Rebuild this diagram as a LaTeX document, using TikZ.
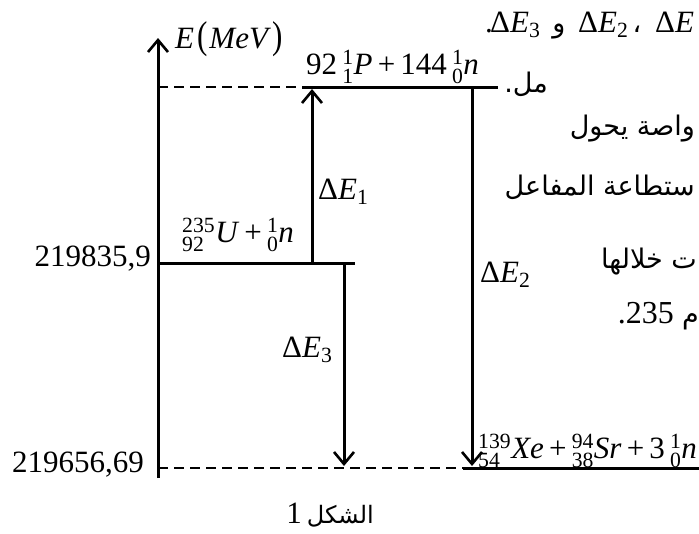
\documentclass[tikz,border=0pt]{standalone}
\usepackage{amsmath}
\usepackage{graphicx}
\usepackage{fontspec}
\setmainfont{Liberation Serif}
\newfontfamily\tnr{Liberation Serif}
\newfontfamily\arabicfont[Script=Arabic]{DejaVu Sans}
\TeXXeTstate=1
\usetikzlibrary{arrows.meta}
\newcommand{\iso}[3]{${}^{\text{\tnr #1}}_{\text{\tnr #2}}$\textit{#3}}
\newcommand{\dEl}[1]{Δ\textit{E}$_{\text{\tnr #1}}$}
\begin{document}
\begin{tikzpicture}[x=1pt,y=-1pt,
  lvl/.style={line width=3pt},
  dlvl/.style={line width=2.2pt,dash pattern=on 10pt off 6pt},
  arr/.style={line width=3pt,-{Straight Barb[length=12pt,width=20pt,line width=2.6pt]}},
  lab/.style={inner sep=0pt,font=\tnr\fontsize{31}{37}\selectfont},
  num/.style={inner sep=0pt,font=\tnr\fontsize{31}{37}\selectfont},
  ar/.style={inner sep=0pt,font=\arabicfont\fontsize{27}{32}\selectfont}]
\useasboundingbox (0,0) rectangle (699,533);
\clip (0,0) rectangle (699,533);
% coordinates
\coordinate (axB) at (158,478); \coordinate (axT) at (158,38);
\coordinate (tL) at (158,87); \coordinate (tM) at (302,87); \coordinate (tR) at (498,87);
\coordinate (uL) at (158,263); \coordinate (uR) at (355,263);
\coordinate (bL) at (158,468); \coordinate (bM) at (463,468); \coordinate (bR) at (705,468);
\coordinate (a1s) at (312,263); \coordinate (a1e) at (312,89);
\coordinate (a2s) at (472,87); \coordinate (a2e) at (472,466);
\coordinate (a3s) at (344,263); \coordinate (a3e) at (344,466);
% axis and levels
\draw[arr] (axB) -- (axT);
\draw[dlvl] (tL) -- (tM);
\draw[lvl] (tM) -- (tR);
\draw[lvl] (uL) -- (uR);
\draw[dlvl] (bL) -- (bM);
\draw[lvl] (bM) -- (bR);
% transitions
\draw[arr] (a1s) -- (a1e);
\draw[arr] (a2s) -- (a2e);
\draw[arr] (a3s) -- (a3e);
% labels
\node[lab,anchor=base west] (emev) at (175,48) {\textit{E}\kern3pt\scalebox{1}[1.25]{(}\kern2pt\textit{MeV}\kern2pt\scalebox{1}[1.25]{)}};
\node[lab,anchor=base west] (toplab) at (306,74) {92\,\iso{1}{1}{P}\,+\,144\,\iso{1}{0}{n}};
\node[lab,anchor=base west] (ulab) at (182,242) {\iso{235}{92}{U}\,+\,\iso{1}{0}{n}};
\node[lab,anchor=base west] (xelab) at (478,458) {\iso{139}{54}{Xe}\,+\,\iso{94}{38}{Sr}\,+\,3\,\iso{1}{0}{n}};
\node[lab,anchor=base west] (de1) at (318,199) {\dEl{1}};
\node[lab,anchor=base west] (de3) at (282,357) {\dEl{3}};
\node[lab,anchor=base west] (de2) at (480,282) {\dEl{2}};
\node[num,anchor=base east] (v1) at (151,266) {219835,9};
\node[num,anchor=base east] (v2) at (144,472) {219656,69};
\node[lab,anchor=base] (fig) at (330,523) {1\,{\arabicfont\fontsize{24}{28}\selectfont\beginR الشكل\endR}};
% Arabic text fragments (right side)
\node[lab,anchor=base west] (t1a) at (485,32) {.};
\node[lab,anchor=base west] (t1b) at (490,32) {\dEl{3}};
\node[ar,anchor=base] (t1c) at (559,32) {و};
\node[lab,anchor=base west] (t1d) at (578,32) {\dEl{2}};
\node[ar,anchor=base] (t1e) at (637,32) {،};
\node[lab,anchor=base west] (t1f) at (655,32) {Δ\textit{E}};
\node[ar,anchor=base east] (t2) at (548,92) {\beginR مل.\endR};
\node[ar,anchor=base east] (t3) at (695,135) {\beginR واصة يحول\endR};
\node[ar,anchor=base east] (t4) at (695,195) {\beginR ستطاعة المفاعل\endR};
\node[ar,anchor=base east] (t5) at (697,268) {\beginR ت خلالها\endR};
\node[ar,anchor=base east] (t6b) at (699,323) {م};
\node[lab,anchor=base east] (t6a) at (674,323) {\fontsize{32}{38}\selectfont .235};
\end{tikzpicture}
\end{document}
